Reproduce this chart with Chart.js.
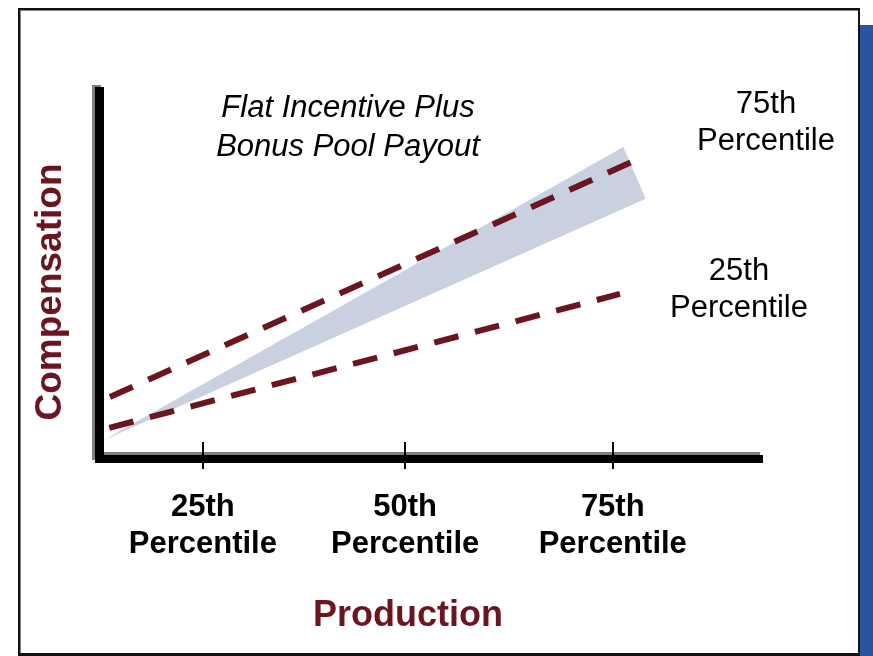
<!DOCTYPE html>
<html>
<head>
<meta charset="utf-8">
<title>Flat Incentive Plus Bonus Pool Payout</title>
<script src="https://cdn.jsdelivr.net/npm/chart.js@4/dist/chart.umd.min.js"></script>
<style>
  html, body { margin: 0; padding: 0; background: #fff; }
  #wrap { position: relative; width: 873px; height: 656px; overflow: hidden; }
  #panel { position: absolute; left: 18px; top: 8px; width: 842px; height: 648px; box-sizing: border-box;
           border: 2px solid #111; border-bottom-width: 3px; box-shadow: inset 1px 1px 0 #888; background: #fff; }
  #strip { position: absolute; left: 860px; top: 25px; width: 13px; height: 631px; background: #2a53a0; }
  #chart { position: absolute; left: 0; top: 0; }
</style>
</head>
<body>
<div id="wrap">
  <div id="strip"></div>
  <div id="panel"></div>
  <canvas id="chart" width="873" height="656"></canvas>
</div>
<script>
// Production percentiles on the x axis
const tickValues = [15, 45.7, 77.2];
const tickLabels = [['25th', 'Percentile'], ['50th', 'Percentile'], ['75th', 'Percentile']];

// 75th percentile compensation line
const upperX = [0.9, 80.0];
const upperY = [15.8, 79.8];

// 25th percentile compensation line
const lowerX = [0.8, 78.3];
const lowerY = [7.4, 43.9];

// bonus pool payout wedge (closed shape)
const bandX = [0, 78.8, 82.2, 0];
const bandY = [4.1, 83.9, 69.8, 4.1];

const MAROON = '#6b1520';
const FONT = "'Liberation Sans', Arial, Helvetica, sans-serif";

const toPoints = (xs, ys) => xs.map((x, i) => ({ x, y: ys[i] }));

// axes with drop shadow + tick marks
const axesPlugin = {
  id: 'axes',
  afterDatasetsDraw(chart) {
    const { ctx, chartArea: a, scales: { x } } = chart;
    ctx.save();
    ctx.fillStyle = '#808080';
    ctx.fillRect(a.left - 12, a.top - 3, 9, a.bottom - a.top + 8);
    ctx.fillRect(a.left - 12, a.bottom - 3, a.right - a.left + 9, 8);
    ctx.fillStyle = '#000';
    ctx.fillRect(a.left - 9, a.top - 1, 9, a.bottom - a.top + 9);
    ctx.fillRect(a.left - 9, a.bottom, a.right - a.left + 9, 8);
    ctx.strokeStyle = '#000';
    ctx.lineWidth = 2;
    tickValues.forEach(v => {
      const px = Math.round(x.getPixelForValue(v));
      ctx.beginPath();
      ctx.moveTo(px, a.bottom - 13);
      ctx.lineTo(px, a.bottom + 14);
      ctx.stroke();
    });
    ctx.restore();
  }
};

// titles and annotations
const textPlugin = {
  id: 'texts',
  afterDraw(chart) {
    const ctx = chart.ctx;
    ctx.save();
    ctx.textAlign = 'center';
    ctx.textBaseline = 'middle';

    ctx.fillStyle = MAROON;
    ctx.font = 'bold 36px ' + FONT;
    ctx.fillText('Production', 408, 616);
    ctx.save();
    ctx.translate(51, 292);
    ctx.rotate(-Math.PI / 2);
    ctx.font = 'bold 37px ' + FONT;
    ctx.fillText('Compensation', 0, 0);
    ctx.restore();

    ctx.fillStyle = '#000';
    ctx.font = 'italic 31px ' + FONT;
    ctx.fillText('Flat Incentive Plus', 348, 108);
    ctx.fillText('Bonus Pool Payout', 348, 147);

    ctx.font = '31px ' + FONT;
    ctx.fillText('75th', 766, 104);
    ctx.fillText('Percentile', 766, 141);
    ctx.fillText('25th', 739, 271);
    ctx.fillText('Percentile', 739, 308);
    ctx.restore();
  }
};

new Chart(document.getElementById('chart'), {
  type: 'scatter',
  data: {
    datasets: [
      {
        label: '75th Percentile',
        data: toPoints(upperX, upperY),
        showLine: true,
        borderColor: MAROON,
        borderWidth: 6,
        borderDash: [25, 17],
        borderCapStyle: 'butt',
        pointRadius: 0,
        fill: false
      },
      {
        label: '25th Percentile',
        data: toPoints(lowerX, lowerY),
        showLine: true,
        borderColor: MAROON,
        borderWidth: 6,
        borderDash: [25, 17],
        borderCapStyle: 'butt',
        pointRadius: 0,
        fill: false
      },
      {
        label: 'Bonus Pool Payout',
        data: toPoints(bandX, bandY),
        showLine: true,
        borderWidth: 0,
        borderColor: 'rgba(0,0,0,0)',
        backgroundColor: '#c9d1e1',
        pointRadius: 0,
        fill: 'shape'
      }
    ]
  },
  options: {
    responsive: false,
    animation: false,
    events: [],
    layout: { padding: { left: 104, top: 88, right: 110, bottom: 0 } },
    plugins: {
      legend: { display: false },
      tooltip: { enabled: false }
    },
    scales: {
      x: {
        type: 'linear',
        min: 0,
        max: 100,
        afterBuildTicks: s => { s.ticks = tickValues.map(v => ({ value: v })); },
        afterFit: s => { s.height = 201; },
        grid: { display: false, drawTicks: false },
        border: { display: false },
        ticks: {
          autoSkip: false,
          maxRotation: 0,
          padding: 34,
          color: '#000',
          font: { family: FONT, size: 31, weight: 'bold', lineHeight: 1.2 },
          callback: (v, i) => tickLabels[i]
        }
      },
      y: {
        type: 'linear',
        min: 0,
        max: 100,
        display: false
      }
    }
  },
  plugins: [axesPlugin, textPlugin]
});
</script>
</body>
</html>
